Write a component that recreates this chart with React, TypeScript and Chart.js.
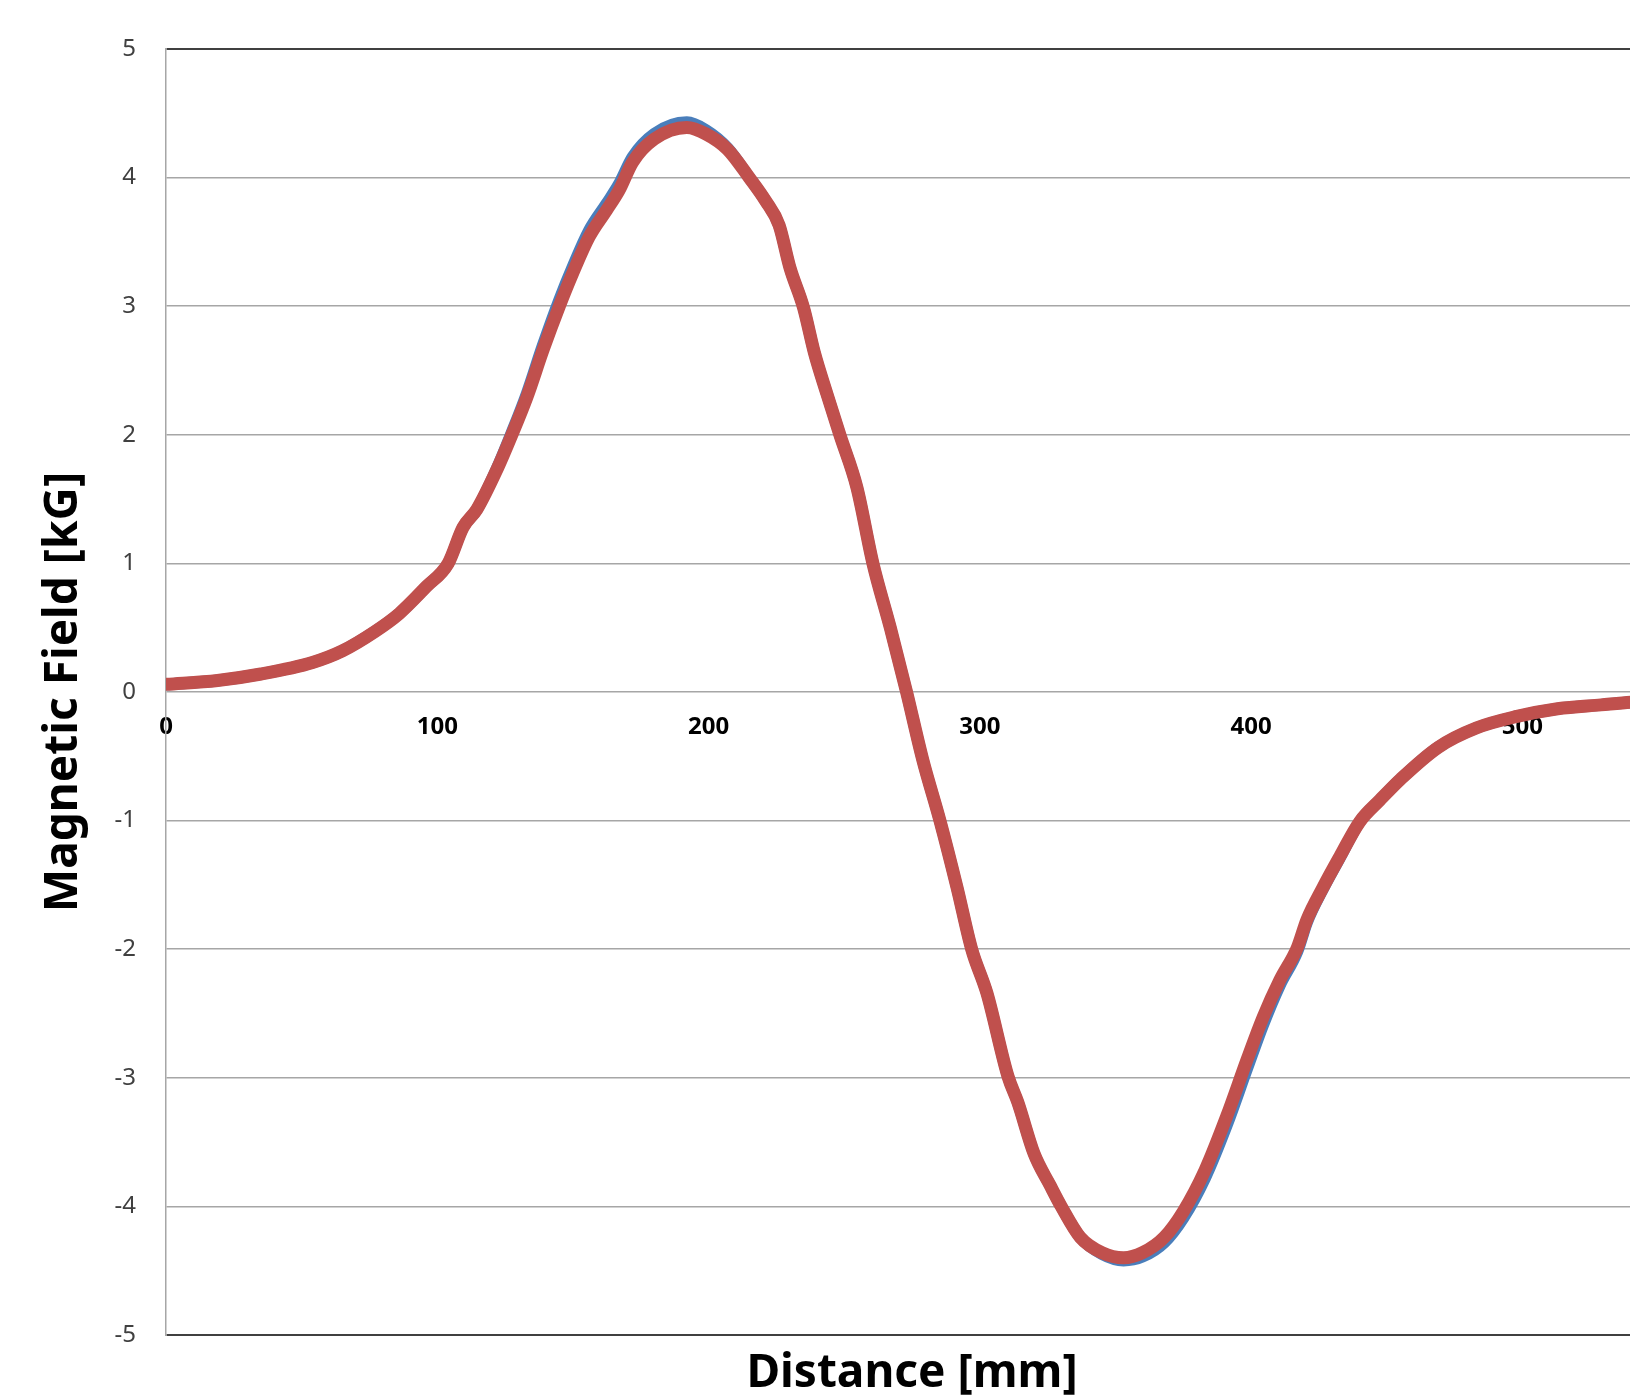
import React, { useEffect, useRef } from "react";
import { Chart, registerables } from "chart.js";

Chart.register(...registerables);

const DISTANCE_MM = [
  0, 19, 35, 54, 65, 77, 86, 96, 104, 109.5, 114.6, 122, 127.5, 133, 139, 145, 150, 156, 162.5, 167,
  172, 180, 192, 199, 207, 215, 221, 226, 230, 235, 239, 243.6, 248.4, 254.7, 260.6, 267, 273, 279,
  285.3, 291.6, 297, 302.6, 310.4, 314, 320, 326, 330, 337, 345, 353, 360, 368, 375, 383, 391,
  398.5, 404.4, 410.6, 417, 420.6, 426.5, 432.7, 440, 447.5, 455, 469, 483, 498, 513, 529, 540, 550,
];

const FIELD_RED = [
  0.06, 0.09, 0.14, 0.23, 0.32, 0.47, 0.61, 0.82, 1.0, 1.28, 1.42, 1.73, 2.0, 2.29, 2.66, 3.0,
  3.26, 3.54, 3.75, 3.9, 4.12, 4.3, 4.39, 4.34, 4.22, 4.0, 3.82, 3.63, 3.3, 2.99, 2.64, 2.32, 2.0,
  1.59, 1.0, 0.5, 0.0, -0.53, -1.0, -1.52, -2.0, -2.34, -2.99, -3.19, -3.59, -3.84, -4.0, -4.24,
  -4.36, -4.4, -4.36, -4.24, -4.04, -3.72, -3.3, -2.86, -2.53, -2.24, -1.99, -1.77, -1.52, -1.28,
  -1.01, -0.84, -0.68, -0.43, -0.28, -0.19, -0.13, -0.1, -0.08, -0.07,
];

const FIELD_BLUE = [
  0.06, 0.09, 0.14, 0.23, 0.32, 0.47, 0.61, 0.82, 1.0, 1.28, 1.42, 1.74, 2.02, 2.32, 2.7, 3.05,
  3.31, 3.59, 3.8, 3.95, 4.16, 4.34, 4.43, 4.37, 4.23, 4.0, 3.82, 3.63, 3.3, 2.99, 2.64, 2.32, 2.0,
  1.59, 1.0, 0.5, 0.0, -0.53, -1.0, -1.52, -2.0, -2.34, -2.99, -3.19, -3.59, -3.84, -4.0, -4.24,
  -4.37, -4.42, -4.39, -4.28, -4.09, -3.78, -3.37, -2.93, -2.59, -2.28, -2.02, -1.79, -1.53, -1.29,
  -1.01, -0.84, -0.68, -0.43, -0.28, -0.19, -0.13, -0.1, -0.08, -0.07,
];

const X_TICK_STEP = 100;
const Y_TICK_STEP = 1;

const FONT = "'Noto Sans', 'Open Sans', sans-serif";
const CANVAS_W = 1700;
const CANVAS_H = 1398;
const PLOT_RIGHT = 1658;

export default function App() {
  const ref = useRef<HTMLCanvasElement>(null);

  useEffect(() => {
    const chart = new Chart(ref.current!, {
      type: "line",
      data: {
        datasets: [
          {
            label: "Measured",
            data: DISTANCE_MM.map((x, i) => ({ x, y: FIELD_RED[i] })),
            borderColor: "#C0504D",
            backgroundColor: "#C0504D",
            borderWidth: 13,
            pointRadius: 0,
            cubicInterpolationMode: "monotone",
            borderCapStyle: "round",
            borderJoinStyle: "round",
          },
          {
            label: "Simulated",
            data: DISTANCE_MM.map((x, i) => ({ x, y: FIELD_BLUE[i] })),
            borderColor: "#4A7EBB",
            backgroundColor: "#4A7EBB",
            borderWidth: 12,
            pointRadius: 0,
            cubicInterpolationMode: "monotone",
            borderCapStyle: "round",
            borderJoinStyle: "round",
          },
        ],
      },
      options: {
        responsive: false,
        animation: false,
        devicePixelRatio: 1,
        layout: { padding: { top: 49, right: CANVAS_W - PLOT_RIGHT, left: 0, bottom: 0 } },
        plugins: { legend: { display: false }, tooltip: { enabled: false } },
        scales: {
          x: {
            type: "linear",
            min: 0,
            max: 550,
            position: { y: 0 } as any,
            ticks: {
              stepSize: X_TICK_STEP,
              includeBounds: false,
              maxRotation: 0,
              font: { family: FONT, size: 24, weight: "bold" },
              color: "#000",
              padding: 21,
            },
            grid: { display: false, drawTicks: false },
            border: { display: false },
          },
          x2: {
            type: "linear",
            min: 0,
            max: 550,
            position: "bottom",
            ticks: { display: false },
            grid: { display: false, drawTicks: false },
            border: { display: false },
            title: {
              display: true,
              text: "Distance [mm]",
              font: { family: FONT, size: 46, weight: "bold", lineHeight: 1 },
              color: "#000",
              padding: { top: 0, bottom: 1 },
            },
            afterFit: (s: any) => {
              s.height = 63;
            },
          },
          y: {
            type: "linear",
            min: -5,
            max: 5,
            ticks: {
              stepSize: Y_TICK_STEP,
              font: { family: FONT, size: 24 },
              color: "#404040",
              padding: 30,
            },
            grid: {
              drawTicks: false,
              color: (c: any) => (c.tick && Math.abs(c.tick.value) === 5 ? "#404040" : "#a6a6a6"),
              lineWidth: (c: any) => (c.tick && Math.abs(c.tick.value) === 5 ? 2 : 1.5),
            },
            border: { color: "#a6a6a6", width: 1.5 },
            title: {
              display: true,
              text: "Magnetic Field [kG]",
              font: { family: FONT, size: 46, weight: "bold" },
              color: "#000",
              padding: { top: 36, bottom: 0 },
            },
            afterFit: (s: any) => {
              s.width = 166;
            },
          },
        },
      } as any,
    });
    return () => chart.destroy();
  }, []);

  return (
    <div
      style={{
        position: "fixed",
        left: 0,
        top: 0,
        width: 1630,
        height: 1398,
        overflow: "hidden",
        background: "#fff",
      }}
    >
      <canvas ref={ref} width={CANVAS_W} height={CANVAS_H} style={{ display: "block" }} />
    </div>
  );
}
